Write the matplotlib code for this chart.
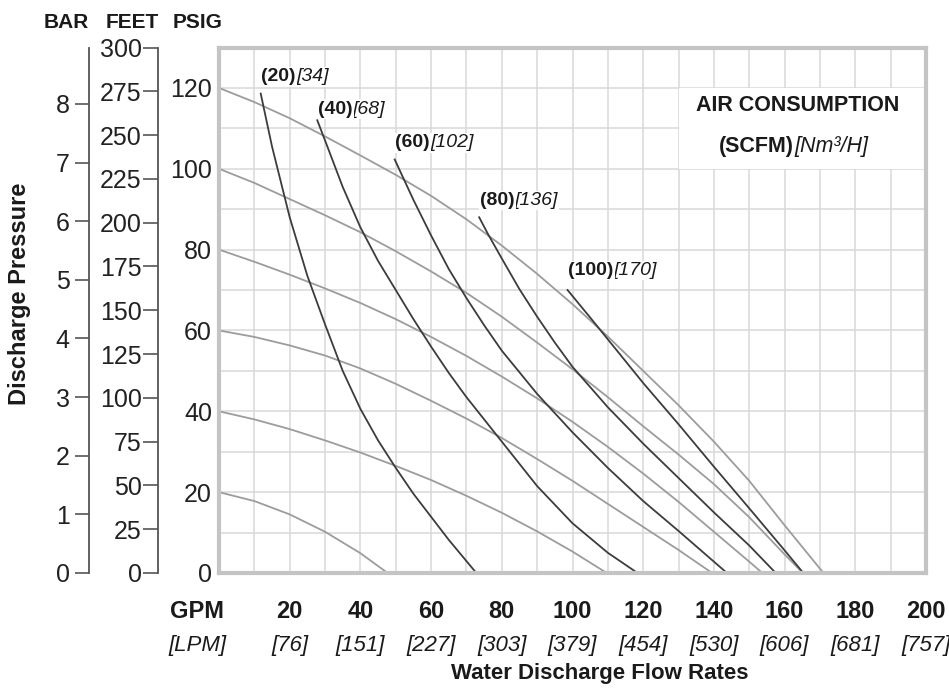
import matplotlib
matplotlib.use("Agg")
import matplotlib.pyplot as plt
from matplotlib import font_manager
from matplotlib.patches import Rectangle

names = {f.name for f in font_manager.fontManager.ttflist}
FONT = "Liberation Sans Narrow" if "Liberation Sans Narrow" in names else "Liberation Sans"
plt.rcParams["font.family"] = [FONT, "DejaVu Sans"]

# discharge pressure curves (psig)
P20_GPM = [0, 10, 20, 30, 40, 47.7]
P20_PSI = [20, 17.8, 14.5, 10.2, 4.9, 0]
P40_GPM = [0, 10, 20, 30, 40, 50, 60, 70, 80, 90, 100, 109.7]
P40_PSI = [40, 38, 35.6, 32.8, 29.8, 26.5, 23, 19.1, 14.9, 10.3, 5.3, 0]
P60_GPM = [0, 10, 20, 30, 40, 50, 60, 70, 80, 90, 100, 110, 120, 130, 139.5]
P60_PSI = [60, 58.4, 56.3, 53.8, 50.6, 46.8, 42.6, 38.2, 33.4, 28.2, 22.8, 17.1, 11.4, 5.7, 0]
P80_GPM = [0, 10, 20, 30, 40, 50, 60, 70, 80, 90, 100, 110, 120, 130, 140, 150, 153.7]
P80_PSI = [80, 77, 73.8, 70.4, 66.8, 62.8, 58.4, 53.7, 48.6, 43.2, 37.4, 31.2, 24.6, 17.6, 10.2, 2.8, 0]
P100_GPM = [0, 10, 20, 30, 40, 50, 60, 70, 80, 90, 100, 110, 120, 130, 140, 150, 160, 165.2]
P100_PSI = [100, 96.5, 92.5, 88.5, 84.3, 79.6, 74.6, 69.3, 63.4, 57, 50.4, 43.5, 36.3, 29.3, 22, 13.8, 4.6, 0]
P120_GPM = [0, 10, 20, 30, 40, 50, 60, 70, 80, 90, 100, 110, 120, 130, 140, 150, 160, 171]
P120_PSI = [120, 116.5, 112.5, 108, 103.3, 98.5, 93.3, 87.5, 81, 74, 66.5, 58.5, 50, 41.5, 32.5, 22.8, 11.8, 0]

# air consumption curves
A20_GPM = [11.8, 15, 20, 25, 30, 35, 40, 45, 50, 55, 60, 65, 72.8]
A20_PSI = [118.6, 105.5, 88, 73.5, 61.5, 50, 40.6, 32.8, 26, 19.6, 13.9, 8.2, 0]
A40_GPM = [27.8, 30, 35, 40, 45, 50, 55, 60, 65, 70, 80, 90, 100, 110, 118.4]
A40_PSI = [112, 107, 95.5, 85.5, 77.2, 70, 62.8, 56, 49.5, 43.5, 32.5, 21.5, 12.3, 5, 0]
A60_GPM = [49.7, 55, 60, 65, 70, 75, 80, 90, 100, 110, 120, 130, 143.7]
A60_PSI = [102.3, 92.3, 83.5, 75.2, 68, 61.3, 55, 44.3, 34.8, 26, 17.8, 10.4, 0]
A80_GPM = [73.6, 76, 80, 85, 90, 95, 100, 110, 120, 130, 140, 150, 157.5]
A80_PSI = [88, 84, 77.8, 70.2, 63.4, 57, 51, 41, 32, 23.5, 15, 6.8, 0]
A100_GPM = [98.6, 105, 110, 120, 130, 140, 150, 160, 165.3]
A100_PSI = [70, 63.2, 57.8, 47, 36.8, 26.3, 16, 5.6, 0]

AIR_SCFM = [20, 40, 60, 80, 100]
AIR_NM3H = [34, 68, 102, 136, 170]

GPM_TICKS = [20, 40, 60, 80, 100, 120, 140, 160, 180, 200]
LPM_LABELS = [76, 151, 227, 303, 379, 454, 530, 606, 681, 757]
PSI_TICKS = [0, 20, 40, 60, 80, 100, 120]
FEET_TICKS = [0, 25, 50, 75, 100, 125, 150, 175, 200, 225, 250, 275, 300]
BAR_TICKS = [0, 1, 2, 3, 4, 5, 6, 7, 8]

PRESSURE = [(P20_GPM, P20_PSI), (P40_GPM, P40_PSI), (P60_GPM, P60_PSI),
            (P80_GPM, P80_PSI), (P100_GPM, P100_PSI), (P120_GPM, P120_PSI)]
AIR = [(A20_GPM, A20_PSI), (A40_GPM, A40_PSI), (A60_GPM, A60_PSI),
       (A80_GPM, A80_PSI), (A100_GPM, A100_PSI)]
LABEL_DY = [12, 8, 12, 12, 14]
INK = "#1a1a1a"
WHITE = dict(facecolor="white", edgecolor="none", pad=1)

W, H = 949, 693
fig = plt.figure(figsize=(W / 100, H / 100), dpi=100)
L, R, T, B = 219, 926, 47.5, 573
ax = fig.add_axes([L / W, 1 - B / H, (R - L) / W, (B - T) / H])
ax.set_xlim(0, 200)
ax.set_ylim(0, 130)
ax.set_xticks(range(0, 201, 10))
ax.set_yticks(range(0, 131, 10))
ax.set_yticklabels([str(v) if v in PSI_TICKS else "" for v in range(0, 131, 10)])
ax.tick_params(length=0, labelbottom=False, labelsize=18, pad=5, labelcolor="#222")
ax.grid(color="#d8d8d8", lw=1.1)
ax.set_axisbelow(True)
for s in ax.spines.values():
    s.set_color("#c4c4c4")
    s.set_linewidth(3)

# white panel behind the air consumption title
ax.add_patch(Rectangle((130, 100), 70, 20, facecolor="white", edgecolor="none", zorder=1.2))
ax.text(163.8, 115.6, "AIR CONSUMPTION", ha="center", va="center", fontsize=15.5,
        fontweight="bold", color=INK, zorder=3)
ax.text(162.7, 105.5, "(SCFM)", ha="right", va="center", fontsize=15.5,
        fontweight="bold", color=INK, zorder=3)
ax.text(162.7, 105.5, "[Nm\u00b3/H]", ha="left", va="center", fontsize=15.5,
        fontstyle="italic", color=INK, zorder=3)

for q, p in PRESSURE:
    ax.plot(q, p, color="#9c9c9c", lw=1.3, zorder=2)
for (q, p), scfm, nm3, dy in zip(AIR, AIR_SCFM, AIR_NM3H, LABEL_DY):
    ax.plot(q, p, color="#3c3c3c", lw=1.3, zorder=2.5)
    t1 = ax.annotate("(%d)" % scfm, xy=(q[0], p[0]), xytext=(0.5, dy),
                     textcoords="offset points", ha="left", va="center", fontsize=14,
                     fontweight="bold", color=INK, zorder=3.2, bbox=WHITE)
    ax.annotate("[%d]" % nm3, xy=(1, 0.5), xycoords=t1, ha="left", va="center",
                fontsize=14, fontstyle="italic", color=INK, zorder=3, bbox=WHITE)

# FEET and BAR axes on the left
for lim, ticks, xpos, tlen, pad in ((300, FEET_TICKS, 158.3, 11, 1),
                                     (130 / 14.5038, BAR_TICKS, 89.3, 10, 4)):
    tw = ax.twinx()
    tw.set_ylim(0, lim)
    tw.yaxis.set_ticks_position("left")
    tw.spines["left"].set_position(("axes", (xpos - L) / (R - L)))
    for k in ("right", "top", "bottom"):
        tw.spines[k].set_visible(False)
    tw.spines["left"].set_color("#555")
    tw.spines["left"].set_linewidth(1.3)
    tw.set_yticks(ticks)
    tw.tick_params(axis="y", direction="out", length=tlen, width=1.2, color="#555",
                   pad=pad, labelsize=18, labelcolor="#222")

# header and axis titles
for txt, xc in (("BAR", 66.5), ("FEET", 132), ("PSIG", 197.5)):
    fig.text(xc / W, 1 - 22.5 / H, txt, ha="center", va="center", fontsize=15,
             fontweight="bold", color=INK)
fig.text(20 / W, 1 - 294 / H, "Discharge Pressure", rotation=90, ha="center",
         va="center", fontsize=17, fontweight="bold", color=INK)

tr = ax.get_xaxis_transform()
gy = -(612 - B) / (B - T)
ly = -(645 - B) / (B - T)
for g, lpm in zip(GPM_TICKS, LPM_LABELS):
    ax.text(g, gy, str(g), transform=tr, ha="center", va="center", fontsize=17,
            fontweight="bold", color=INK)
    ax.text(g, ly, "[%d]" % lpm, transform=tr, ha="center", va="center", fontsize=16,
            fontstyle="italic", color=INK)
fig.text(197 / W, 1 - 612 / H, "GPM", ha="center", va="center", fontsize=17,
         fontweight="bold", color=INK)
fig.text(197 / W, 1 - 645 / H, "[LPM]", ha="center", va="center", fontsize=16,
         fontstyle="italic", color=INK)
fig.text(600 / W, 1 - 674 / H, "Water Discharge Flow Rates", ha="center", va="center",
         fontsize=16, fontweight="bold", color=INK)

fig.savefig("out.png", dpi=100)
